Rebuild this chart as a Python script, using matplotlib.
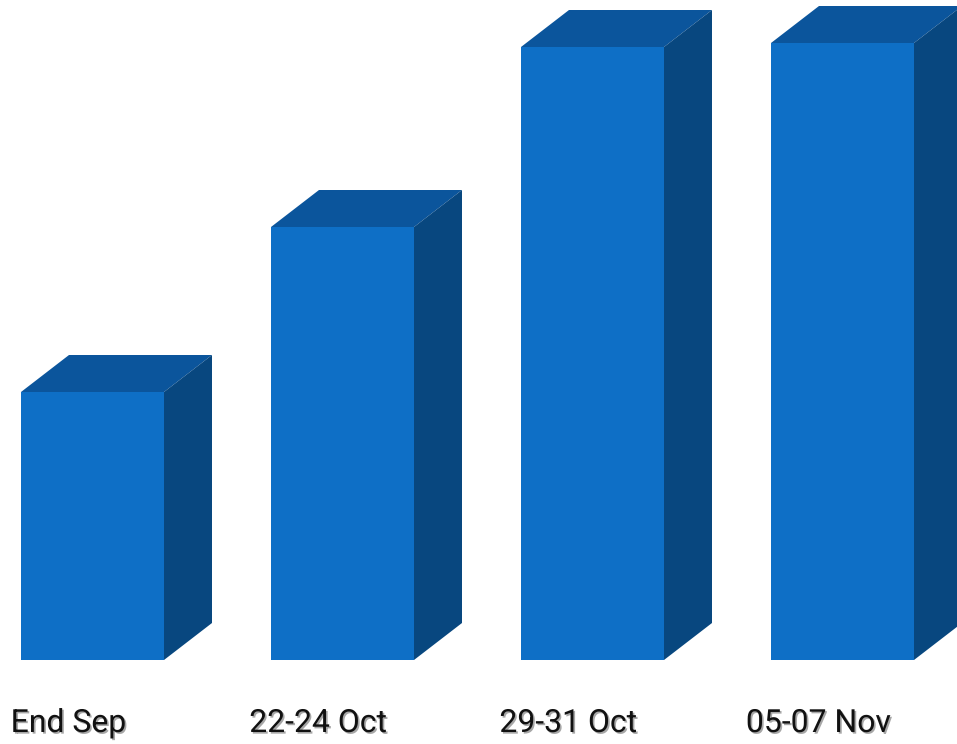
import numpy as np
import matplotlib.pyplot as plt
from matplotlib.patches import Polygon
import matplotlib.patheffects as pe

# category labels and bar heights
labels = ['End Sep', '22-24 Oct', '29-31 Oct', '05-07 Nov']
values = [268, 433, 613, 617]

front_col = '#0e6fc6'
top_col = '#0b559c'
side_col = '#08477f'

width = 0.572
depth_x = 0.192   # sideways depth in category units
depth_y = 37      # upward depth in value units

fig = plt.figure(figsize=(9.57, 7.44), dpi=100)
ax = fig.add_axes([0, 0, 1, 1])
ax.set_xlim(-0.37, 3.458)
ax.set_ylim(-84, 660)
ax.axis('off')

x = np.arange(len(values))
ax.bar(x, values, width=width, color=front_col, zorder=3)

for xi, v in zip(x, values):
    left, right = xi - width / 2, xi + width / 2
    top = Polygon([(left, v), (right, v), (right + depth_x, v + depth_y),
                   (left + depth_x, v + depth_y)], closed=True,
                  facecolor=top_col, edgecolor='none', zorder=2)
    side = Polygon([(right, 0), (right + depth_x, depth_y),
                    (right + depth_x, v + depth_y), (right, v)], closed=True,
                   facecolor=side_col, edgecolor='none', zorder=2)
    ax.add_patch(top)
    ax.add_patch(side)

for xi, lab in zip(x, labels):
    ax.text(xi - 0.096, -72, lab, ha='center', va='baseline',
            fontsize=23, family='Roboto', color='#111111',
            path_effects=[pe.SimplePatchShadow(offset=(1.2, -1.2), alpha=0.35),
                          pe.Normal()])

fig.savefig('out.png', dpi=100)
